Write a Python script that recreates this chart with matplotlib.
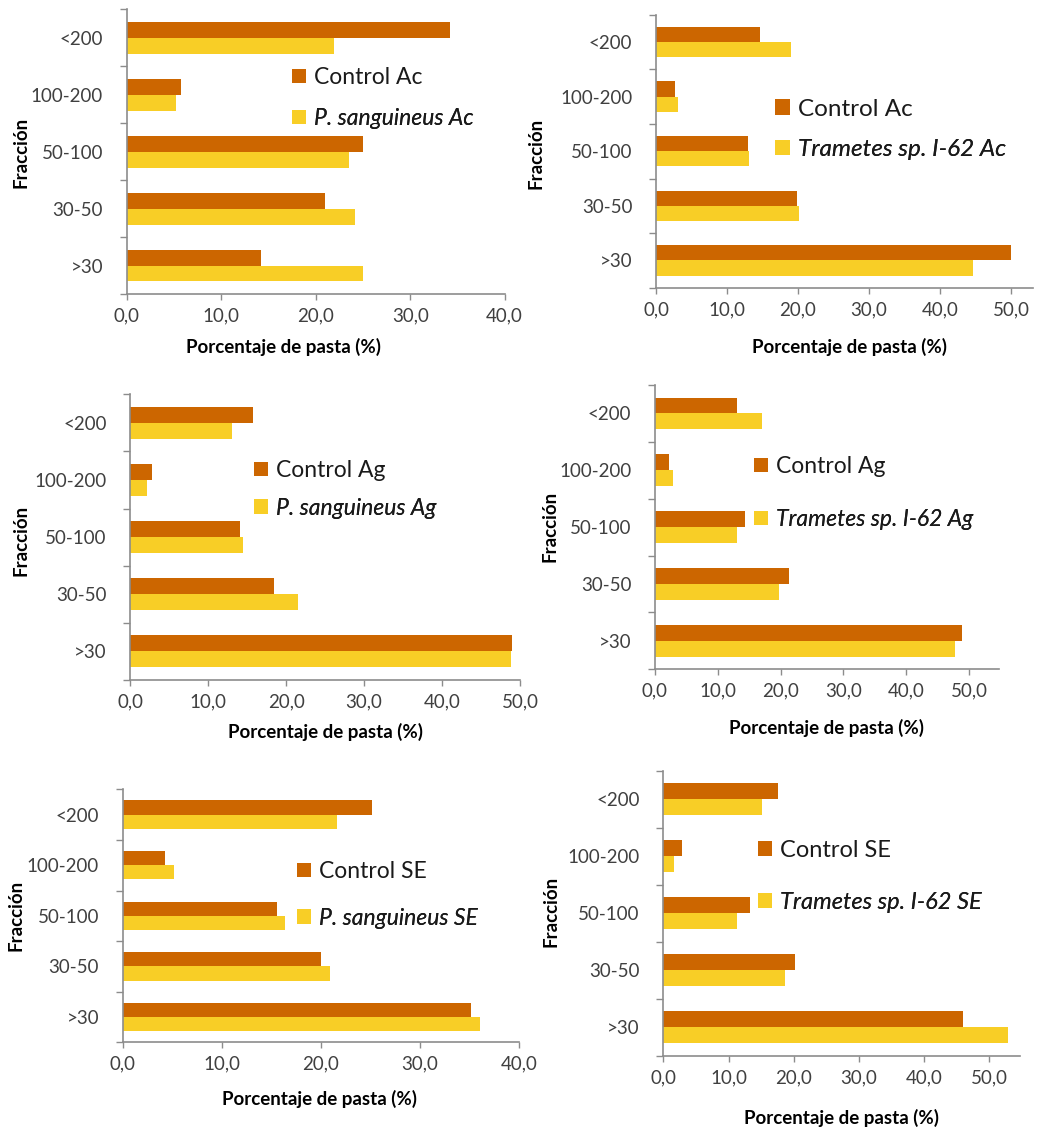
import matplotlib
matplotlib.use("Agg")
import matplotlib.pyplot as plt
import numpy as np

W, H = 1037, 1129
DPI = 100

categories = [">30", "30-50", "50-100", "100-200", "<200"]

# Percentages, ordered as in `categories` (bottom to top)
ctrl_ac = [14.2, 21.0, 25.0, 5.7, 34.2]
psang_ac = [25.0, 24.2, 23.5, 5.2, 21.9]
ctrl_ac2 = [50.0, 19.8, 12.9, 2.7, 14.6]
tram_ac = [44.6, 20.2, 13.1, 3.05, 19.0]
ctrl_ag = [49.0, 18.5, 14.1, 2.8, 15.7]
psang_ag = [48.9, 21.5, 14.4, 2.2, 13.1]
ctrl_ag2 = [48.8, 21.4, 14.4, 2.2, 13.1]
tram_ag = [47.7, 19.7, 13.0, 2.9, 17.0]
ctrl_se = [35.1, 20.0, 15.6, 4.3, 25.1]
psang_se = [36.0, 20.9, 16.4, 5.2, 21.6]
ctrl_se2 = [46.0, 20.2, 13.3, 2.8, 17.6]
tram_se = [52.8, 18.6, 11.3, 1.7, 15.2]

xticks_40 = [0, 10, 20, 30, 40]
xticks_50 = [0, 10, 20, 30, 40, 50]

C_CTRL = "#CC6600"
C_TREAT = "#F8CE26"
AX_GRAY = "#8C8C8C"
TXT = "#404040"
FONT = ["Lato", "DejaVu Sans"]

plt.rcParams["font.family"] = FONT

fig = plt.figure(figsize=(W / DPI, H / DPI), dpi=DPI)


def px_rect(left, right, top, bottom):
    return [left / W, 1 - bottom / H, (right - left) / W, (bottom - top) / H]


panels = [
    # axes box in px, xlim, ticks, data, legend text, legend geometry, label positions
    dict(box=(126.7, 504.7, 9.3, 294), xmax=40, ticks=xticks_40,
         ctrl=ctrl_ac, treat=psang_ac, labels=("Control Ac", "P. sanguineus Ac"),
         leg=(292, 77.5, 118.5), lfs=16.5, xl=(283, 347), yl=(21, 152)),
    dict(box=(656, 1032.7, 14.7, 287.7), xmax=53.05, ticks=xticks_50,
         ctrl=ctrl_ac2, treat=tram_ac, labels=("Control Ac", "Trametes sp. I-62 Ac"),
         leg=(775, 109, 149.5), lfs=17.5, xl=(850, 347), yl=(536, 153)),
    dict(box=(130.3, 520, 394.3, 680), xmax=50, ticks=xticks_50,
         ctrl=ctrl_ag, treat=psang_ag, labels=("Control Ag", "P. sanguineus Ag"),
         leg=(254, 470.5, 508.3), lfs=16.5, xl=(325, 731.7), yl=(21, 540)),
    dict(box=(655, 999.3, 385, 669.3), xmax=54.8, ticks=xticks_50,
         ctrl=ctrl_ag2, treat=tram_ag, labels=("Control Ag", "Trametes sp. I-62 Ag"),
         leg=(754, 466.5, 519.5), lfs=16.5, xl=(826.7, 728), yl=(550, 526.7)),
    dict(box=(122.7, 519.3, 789.3, 1042.3), xmax=40, ticks=xticks_40,
         ctrl=ctrl_se, treat=psang_se, labels=("Control SE", "P. sanguineus SE"),
         leg=(297, 871.5, 918.3), lfs=16.5, xl=(320, 1099), yl=(16, 915)),
    dict(box=(663.3, 1020, 770.7, 1056), xmax=54.7, ticks=xticks_50,
         ctrl=ctrl_se2, treat=tram_se, labels=("Control SE", "Trametes sp. I-62 SE"),
         leg=(758, 850.5, 902.5), lfs=17, xl=(841.7, 1118), yl=(550.7, 911.7)),
]

bar_h = 0.28
y = np.arange(len(categories))

for p in panels:
    ax = fig.add_axes(px_rect(*p["box"]))
    b_ctrl = ax.barh(y + bar_h / 2, p["ctrl"], height=bar_h, color=C_CTRL,
                     edgecolor="none", zorder=2)
    b_treat = ax.barh(y - bar_h / 2, p["treat"], height=bar_h, color=C_TREAT,
                      edgecolor="none", zorder=2)
    ax.set_xlim(0, p["xmax"])
    ax.set_ylim(-0.5, len(categories) - 0.5)
    ax.set_xticks(p["ticks"])
    ax.set_xticklabels([f"{t:.1f}".replace(".", ",") for t in p["ticks"]])
    # category labels at band centres, tick marks at band boundaries
    ax.set_yticks(y)
    ax.set_yticklabels(categories)
    ax.set_yticks(np.arange(-0.5, len(categories), 1.0), minor=True)
    ax.tick_params(axis="y", which="major", length=0, pad=17, labelsize=13.5,
                   labelcolor=TXT)
    ax.tick_params(axis="y", which="minor", length=5, width=1, color=AX_GRAY)
    ax.tick_params(axis="x", which="major", length=4.5, width=1, color=AX_GRAY,
                   pad=5, labelsize=13.5, labelcolor=TXT)
    for s in ("top", "right"):
        ax.spines[s].set_visible(False)
    for s in ("left", "bottom"):
        ax.spines[s].set_color(AX_GRAY)
        ax.spines[s].set_linewidth(1.2)
    ax.patch.set_alpha(0)

    fig.text(p["xl"][0] / W, 1 - p["xl"][1] / H, "Porcentaje de pasta (%)",
             ha="center", va="center", fontsize=13.5, fontweight="bold",
             color="black")
    fig.text(p["yl"][0] / W, 1 - p["yl"][1] / H, "Fracción", rotation=90,
             ha="center", va="center", fontsize=13.5, fontweight="bold",
             color="black")

    lx, ly1, ly2 = p["leg"]
    styles = ("normal", "italic")
    for handle, text, ly, st in zip((b_ctrl, b_treat), p["labels"], (ly1, ly2), styles):
        leg = ax.legend([handle], [text], loc="center left",
                        bbox_to_anchor=(lx / W, 1 - ly / H),
                        bbox_transform=fig.transFigure, frameon=False,
                        borderpad=0, borderaxespad=0, handlelength=0.6,
                        handleheight=0.6, handletextpad=0.35,
                        prop=dict(family=FONT, size=p["lfs"], style=st))
        for t in leg.get_texts():
            t.set_color("#1a1a1a")
        ax.add_artist(leg)

fig.savefig("out.png", dpi=DPI)
